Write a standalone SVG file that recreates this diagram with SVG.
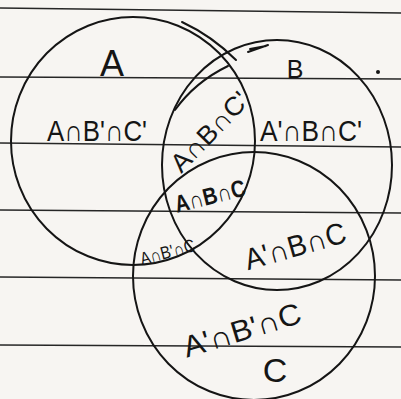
<svg xmlns="http://www.w3.org/2000/svg" width="401" height="399" viewBox="0 0 401 399">
<style>
.paper{stroke:#262626;stroke-width:1.6;fill:none}
.ink{stroke:#151515;stroke-width:2;fill:none;stroke-linecap:round}
.lbl{font-family:"Liberation Sans",Arial,sans-serif;fill:#151515;text-anchor:middle}
</style>
<rect width="401" height="399" fill="#f7f5f2"/>
<g id="ruled-lines">
<line class="paper" x1="0" y1="8" x2="401" y2="13"/>
<line class="paper" x1="0" y1="77" x2="401" y2="79"/>
<line class="paper" x1="0" y1="143" x2="401" y2="147"/>
<line class="paper" x1="0" y1="210" x2="401" y2="213"/>
<line class="paper" x1="0" y1="277" x2="401" y2="280"/>
<line class="paper" x1="0" y1="345" x2="401" y2="347"/>
</g>
<g id="set-A">
<ellipse class="ink" cx="133" cy="141" rx="122" ry="124"/>
<text class="lbl" x="112" y="76" font-size="36">A</text>
</g>
<g id="set-B">
<ellipse class="ink" cx="277" cy="165" rx="115" ry="125"/>
<path class="ink" d="M182 22 Q212 36 236 60"/>
<path class="ink" d="M175 110 Q195 82 228 66"/>
<path class="ink" d="M248 52 L268 45 M250 49 L266 46"/>
<circle cx="378" cy="72" r="2" fill="#151515"/>
<text class="lbl" x="295" y="78" font-size="25">B</text>
</g>
<g id="set-C">
<ellipse class="ink" cx="254" cy="276" rx="121" ry="124"/>
<text class="lbl" x="275" y="382" font-size="34">C</text>
</g>
<g id="regions">
<text class="lbl" x="97" y="141" font-size="30" textLength="100" lengthAdjust="spacingAndGlyphs">A∩B'∩C'</text>
<text class="lbl" x="311" y="141" font-size="30" textLength="102" lengthAdjust="spacingAndGlyphs">A'∩B∩C'</text>
<text class="lbl" transform="translate(216 138) rotate(-46)" font-size="26" textLength="100" lengthAdjust="spacingAndGlyphs">A∩B∩C'</text>
<text class="lbl" transform="translate(212 204) rotate(-14)" font-size="24" font-weight="bold" textLength="72" lengthAdjust="spacingAndGlyphs">A∩B∩C</text>
<text class="lbl" transform="translate(169 258) rotate(-15)" font-size="18" textLength="56" lengthAdjust="spacingAndGlyphs">A∩B'∩C</text>
<text class="lbl" transform="translate(298 256) rotate(-16)" font-size="30" textLength="104" lengthAdjust="spacingAndGlyphs">A'∩B∩C</text>
<text class="lbl" transform="translate(245 340) rotate(-17)" font-size="30" textLength="122" lengthAdjust="spacingAndGlyphs">A'∩B'∩C</text>
</g>
</svg>
